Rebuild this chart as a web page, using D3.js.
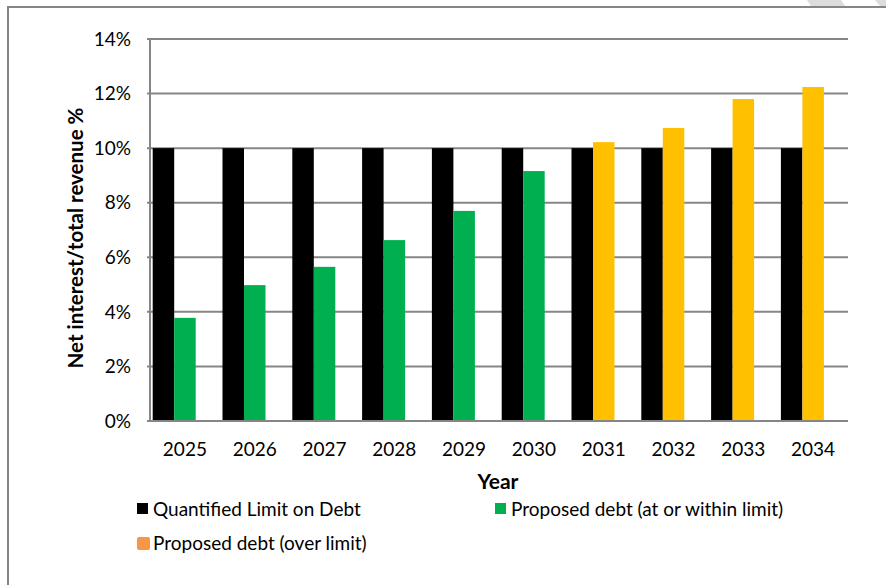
<!DOCTYPE html>
<html>
<head>
<meta charset="utf-8">
<script src="https://cdn.jsdelivr.net/npm/d3@7"></script>
<style>
  body { margin: 0; background: #fff; }
  text { font-family: Lato, "Open Sans", sans-serif; }
</style>
</head>
<body>
<script>
var years = ["2025","2026","2027","2028","2029","2030","2031","2032","2033","2034"];
var limitValues = [10,10,10,10,10,10,10,10,10,10];
var proposedValues = [3.78,4.98,5.65,6.63,7.70,9.16,10.22,10.74,11.80,12.24];
var yTicks = [0,2,4,6,8,10,12,14];
var legendItems = ["Quantified Limit on Debt", "Proposed debt (at or within limit)", "Proposed debt (over limit)"];

var W = 886, H = 585;
var svg = d3.select("body").append("svg")
    .attr("width", W)
    .attr("height", H);

// chart border and the grey corner shapes
svg.append("path")
    .attr("d", "M8,585 L8,7 L886,7")
    .attr("fill", "none")
    .attr("stroke", "#868686")
    .attr("stroke-width", 2);
svg.append("polygon").attr("points", "807,0 841,0 845,6 811,6").attr("fill", "#dcdcdc");
svg.append("polygon").attr("points", "875,0 886,0 886,6 880,6").attr("fill", "#dcdcdc");

var plotLeft = 150, plotRight = 848, plotTop = 39, plotBottom = 421;

var x = d3.scaleBand().domain(years).range([plotLeft, plotRight]);
var y = d3.scaleLinear().domain([0, 14]).range([plotBottom, plotTop]);

// gridlines
svg.append("g").selectAll("line")
    .data(yTicks)
    .enter().append("line")
    .attr("x1", plotLeft - 3)
    .attr("x2", plotRight)
    .attr("y1", function (d) { return y(d); })
    .attr("y2", function (d) { return y(d); })
    .attr("stroke", "#868686")
    .attr("stroke-width", 2);

// y axis line
svg.append("line")
    .attr("x1", plotLeft).attr("x2", plotLeft)
    .attr("y1", plotTop).attr("y2", plotBottom)
    .attr("stroke", "#868686").attr("stroke-width", 2);

var barW = 21.5;
var offset = 2.7; // bars sit to the left of each category slot

svg.append("g").selectAll("rect")
    .data(limitValues)
    .enter().append("rect")
    .attr("x", function (d, i) { return x(years[i]) + offset; })
    .attr("y", function (d) { return y(d); })
    .attr("width", barW)
    .attr("height", function (d) { return plotBottom - y(d) - 1; })
    .attr("fill", "#000000");

svg.append("g").selectAll("rect")
    .data(proposedValues)
    .enter().append("rect")
    .attr("x", function (d, i) { return x(years[i]) + offset + barW; })
    .attr("y", function (d) { return y(d); })
    .attr("width", barW)
    .attr("height", function (d) { return plotBottom - y(d) - 1; })
    .attr("fill", function (d) { return d > 10 ? "#ffc000" : "#00b050"; });

// y tick labels
svg.append("g").selectAll("text")
    .data(yTicks)
    .enter().append("text")
    .attr("x", 131)
    .attr("y", function (d) { return y(d); })
    .attr("dy", "0.35em")
    .attr("text-anchor", "end")
    .attr("font-size", 19)
    .attr("fill", "#000")
    .text(function (d) { return d + "%"; });

// x tick labels
svg.append("g").selectAll("text")
    .data(years)
    .enter().append("text")
    .attr("x", function (d) { return x(d) + x.bandwidth() / 2; })
    .attr("y", 449)
    .attr("dy", "0.35em")
    .attr("text-anchor", "middle")
    .attr("font-size", 19)
    .attr("fill", "#000")
    .text(function (d) { return d; });

// axis titles
svg.append("text")
    .attr("x", 498).attr("y", 482)
    .attr("dy", "0.35em")
    .attr("text-anchor", "middle")
    .attr("font-size", 21)
    .attr("font-weight", "bold")
    .text("Year");

svg.append("text")
    .attr("transform", "translate(76,238) rotate(-90)")
    .attr("dy", "0.35em")
    .attr("text-anchor", "middle")
    .attr("font-size", 20.5)
    .attr("font-weight", "bold")
    .text("Net interest/total revenue %");

// legend
var legendPos = [[137, 509], [495, 509], [137, 543]];
var legendColors = ["#000000", "#00b050", "#f79646"];
var legend = svg.append("g").selectAll("g")
    .data(legendItems)
    .enter().append("g")
    .attr("transform", function (d, i) { return "translate(" + legendPos[i][0] + "," + legendPos[i][1] + ")"; });
legend.append("rect")
    .attr("x", 0).attr("y", -6)
    .attr("width", function (d, i) { return i == 2 ? 13 : 11; })
    .attr("height", function (d, i) { return i == 2 ? 13 : 11; })
    .attr("rx", function (d, i) { return i == 2 ? 2 : 0; })
    .attr("fill", function (d, i) { return legendColors[i]; });
legend.append("text")
    .attr("x", 16)
    .attr("dy", "0.35em")
    .attr("font-size", 19)
    .attr("fill", "#000")
    .text(function (d) { return d; });
</script>
</body>
</html>
